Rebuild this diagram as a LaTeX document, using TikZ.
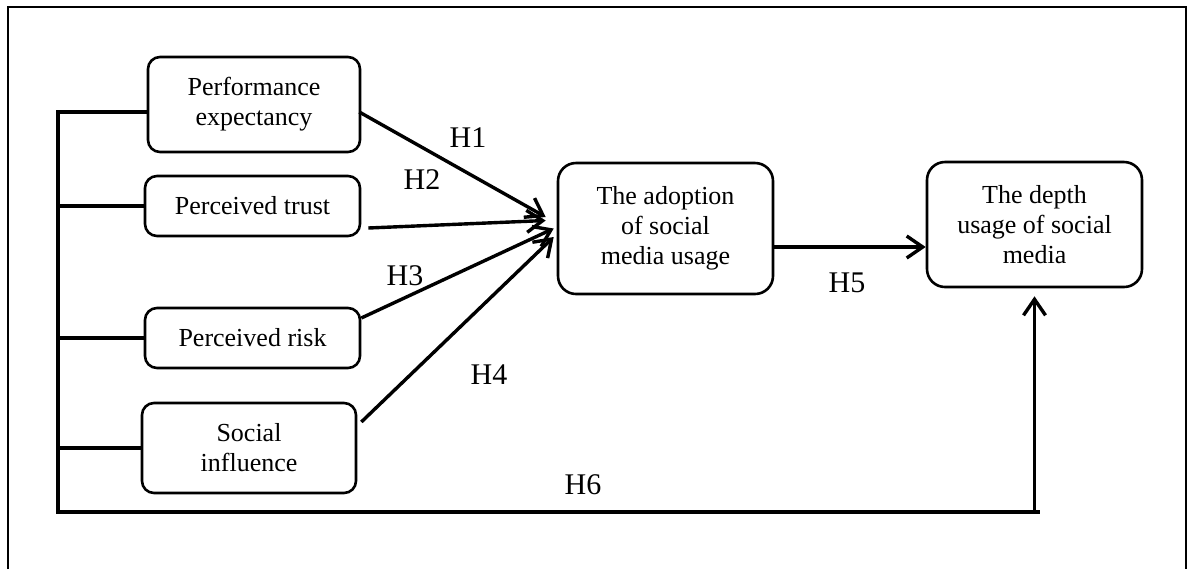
\documentclass[tikz,border=0pt]{standalone}
\usepackage{fontspec}
\setmainfont{Liberation Serif}
\usetikzlibrary{arrows.meta,calc}

\begin{document}
\begin{tikzpicture}[x=0.5pt, y=-0.5pt,
    box/.style={draw, rectangle, rounded corners=6pt, line width=1.3pt, align=center,
        inner sep=0pt, font=\fontsize{13}{15}\selectfont},
    hyp/.style={inner sep=0pt, font=\fontsize{15}{18}\selectfont},
    link/.style={line width=1.7pt},
    arr/.style={link, -{Straight Barb[length=8pt,width=11pt]}}]
    \useasboundingbox (0,0) rectangle (1188,569);
    % Frame
    \draw[line width=1pt] (8,569) -- (8,7) -- (1186,7) -- (1186,569);

    % Nodes
    \node[box, minimum width=106pt, minimum height=47.5pt] (perf) at (254,104.5) {Performance\\expectancy};
    \node[box, minimum width=107.5pt, minimum height=30pt] (trust) at (252.5,206) {Perceived trust};
    \node[box, minimum width=107.5pt, minimum height=30pt] (risk) at (252.5,338) {Perceived risk};
    \node[box, minimum width=107pt, minimum height=45pt] (social) at (249,448) {Social\\influence};
    \node[box, minimum width=107.5pt, minimum height=65.5pt, rounded corners=9pt] (adopt) at (665.5,228.5) {The adoption\\of social\\media usage};
    \node[box, minimum width=107.5pt, minimum height=62.5pt, rounded corners=9pt] (depth) at (1034.5,224.5) {The depth\\usage of social\\media};

    % Labels
    \node[hyp] (h1) at (468,138) {H1};
    \node[hyp] (h2) at (422,180) {H2};
    \node[hyp] (h3) at (405,276) {H3};
    \node[hyp] (h4) at (489,375) {H4};
    \node[hyp] (h5) at (847,283) {H5};
    \node[hyp] (h6) at (583,485) {H6};

    % Bus on the left
    \coordinate (bustop) at (58,112);
    \coordinate (busend) at (1040,512);
    \draw[link] (perf.west |- bustop) -- (bustop) -- (bustop |- busend) -- (busend);
    \draw[link] (bustop |- trust.west) -- (trust.west);
    \draw[link] (bustop |- risk.west) -- (risk.west);
    \draw[link] (bustop |- social.west) -- (social.west);
    \draw[arr, shorten >=4pt] (depth.south |- busend) -- (depth.south);

    % Arrows
    \draw[arr] ($(perf.east)+(-2,7.5)$) -- ($(adopt.west)+(-11,-11.5)$);
    \draw[arr] ($(trust.east)+(7,22)$) -- ($(adopt.west)+(-11,-8)$);
    \draw[arr] ($(risk.east)+(0,-20)$) -- ($(adopt.west)+(-3,0)$);
    \draw[arr] ($(social.east)+(4,-26)$) -- ($(adopt.west)+(-3,8.5)$);
    \draw[arr] ($(adopt.east)+(0,18.5)$) coordinate (h5s) -- (h5s -| depth.west);
\end{tikzpicture}
\end{document}
